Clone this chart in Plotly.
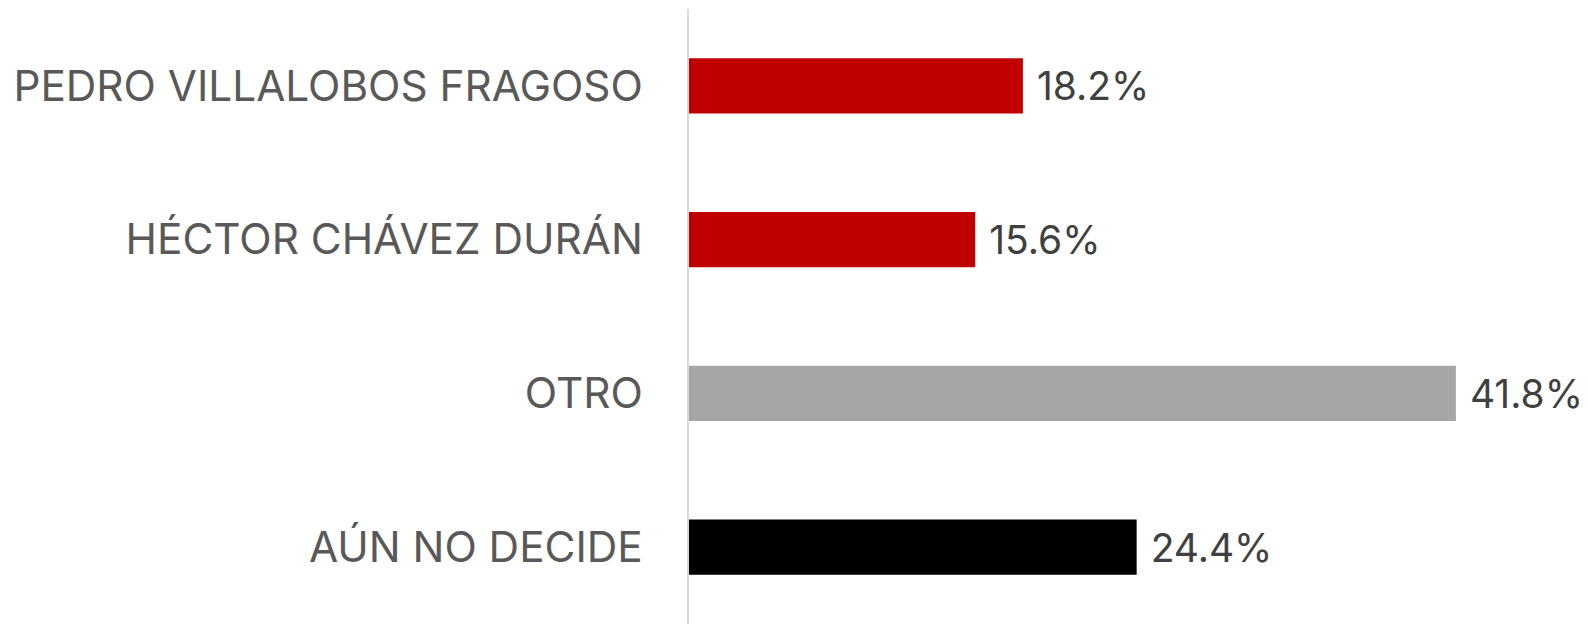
import plotly.graph_objects as go

categories = ["PEDRO VILLALOBOS FRAGOSO", "HÉCTOR CHÁVEZ DURÁN", "OTRO", "AÚN NO DECIDE"]
values = [18.2, 15.6, 41.8, 24.4]
colors = ["#C00000", "#C00000", "#A6A6A6", "#000000"]

fig = go.Figure(go.Bar(
    x=values, y=categories, orientation="h",
    marker=dict(color=colors, line=dict(width=0)),
    texttemplate=" %{x:.1f}%", textposition="outside", cliponaxis=False,
    textfont=dict(family="Inter", size=39, color="#404040"),
    hoverinfo="skip",
))
fig.update_layout(
    width=1588, height=624,
    margin=dict(l=681, r=8, t=1, b=8),
    paper_bgcolor="white", plot_bgcolor="white",
    bargap=0.64, showlegend=False,
    xaxis=dict(range=[0, 49.0], visible=False),
    yaxis=dict(autorange="reversed", showline=True, linecolor="#D9D9D9", linewidth=1.5,
               ticks="", showgrid=False, ticklabelstandoff=36,
               tickfont=dict(family="Inter", size=42.3, color="#595959")),
)
fig.write_html("out.html")
